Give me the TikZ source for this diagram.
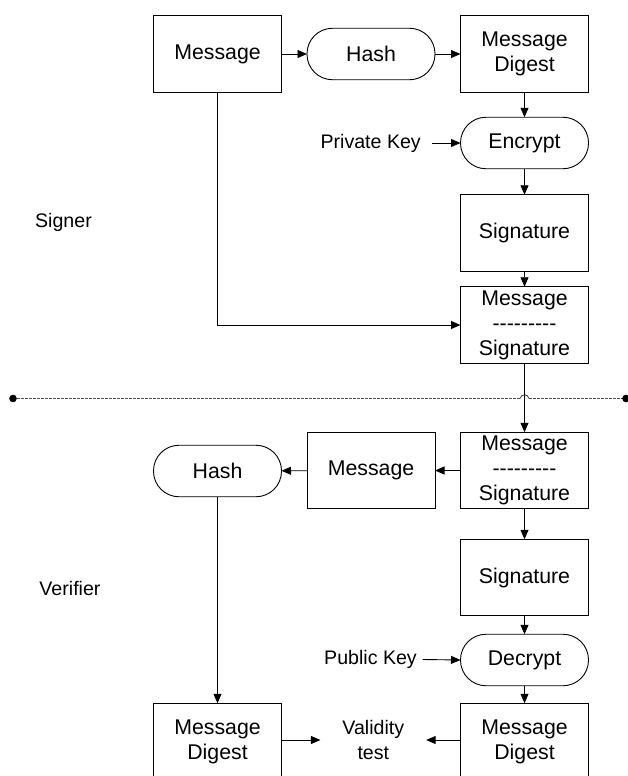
\documentclass[tikz,border=0pt]{standalone}
\usepackage{fontspec}
\setmainfont{Liberation Sans}
\usetikzlibrary{arrows.meta}
\newcommand\dashrow{-{}-{}-{}-{}-{}-{}-{}-{}-}
\begin{document}
\begin{tikzpicture}[x=1pt,y=-1pt,
  line width=0.9pt,
  boxtext/.style={font=\fontsize{21.3}{25}\selectfont, align=center},
  labeltext/.style={font=\fontsize{19.6}{25}\selectfont, align=center, inner sep=0pt, outer sep=0pt},
  blk/.style={boxtext, draw, minimum width=128pt, minimum height=76.5pt, inner sep=0pt, outer sep=0pt},
  proc/.style={boxtext, draw, rounded corners=25.5pt, minimum width=128pt, minimum height=51.5pt, inner sep=0pt, outer sep=0pt},
  arr/.style={-{Triangle[length=9.5pt,width=8pt]}},
  sep/.style={line width=1pt, draw=black!70, dash pattern=on 2.6pt off 1.4pt}]
\useasboundingbox (0,0) rectangle (627,776);

% signer side
\node[blk]  (msg1) at (217.5,54) {Message};
\node[proc] (hash1) at (371,54) {Hash};
\node[blk]  (dig1) at (524.5,54) {Message\\Digest};
\node[proc] (enc) at (524.5,143) {Encrypt};
\node[labeltext] (pk) at (370.7,143) {Private Key};
\coordinate (pkA) at (431.7,143);
\node[blk]  (sig1) at (524.5,233) {Signature};
\node[blk]  (ms1) at (524.5,325) {Message\\\dashrow\\Signature};
\node[labeltext] (signer) at (63.5,222) {Signer};

\draw[arr] (msg1) -- (hash1);
\draw[arr] (hash1) -- (dig1);
\draw[arr] (dig1) -- (enc);
\draw[arr] (pkA) -- (enc.west);
\draw[arr] (enc) -- (sig1);
\draw[arr] (sig1) -- (ms1);
\draw[arr] (msg1.south) |- (ms1.west);

% boundary between signer and verifier
\coordinate (sepL) at (13,398.5);
\coordinate (sepR) at (626,398.5);
\coordinate (hopL) at (520,398.5);
\coordinate (hopR) at (529,398.5);
\draw[sep] (sepL) -- (hopL);
\draw[sep] (hopR) -- (sepR);
\draw[line width=0.8pt, draw=black!75] (hopL) .. controls (521,393.5) and (528,393.5) .. (hopR);
\fill (sepL) circle (3.8pt);
\fill (sepR) circle (3.8pt);

% verifier side
\node[blk]  (ms2) at (524.5,470.5) {Message\\\dashrow\\Signature};
\node[blk]  (msg2) at (371,470.5) {Message};
\node[proc] (hash2) at (217.5,471) {Hash};
\node[blk]  (sig2) at (524.5,577.5) {Signature};
\node[proc] (dec) at (524.5,660) {Decrypt};
\node[labeltext] (pub) at (370.5,659.5) {Public Key};
\coordinate (pubA) at (422.7,659.5);
\node[blk]  (dig2) at (217.5,741.5) {Message\\Digest};
\node[blk]  (dig3) at (524.5,741.5) {Message\\Digest};
\node[labeltext, inner xsep=22pt] (valid) at (373.3,740) {Validity\\test};
\node[labeltext] (verifier) at (70,588) {Verifier};

\draw[arr] (ms1) -- (ms2);
\draw[arr] (ms2) -- (msg2);
\draw[arr] (msg2) -- (hash2);
\draw[arr] (hash2) -- (dig2);
\draw[arr] (ms2) -- (sig2);
\draw[arr] (sig2) -- (dec);
\draw[arr] (pubA) -- (dec.west);
\draw[arr] (dec) -- (dig3);
\draw[arr] (dig2.east |- valid.west) -- (valid.west);
\draw[arr] (dig3.west |- valid.east) -- (valid.east);
\end{tikzpicture}
\end{document}
